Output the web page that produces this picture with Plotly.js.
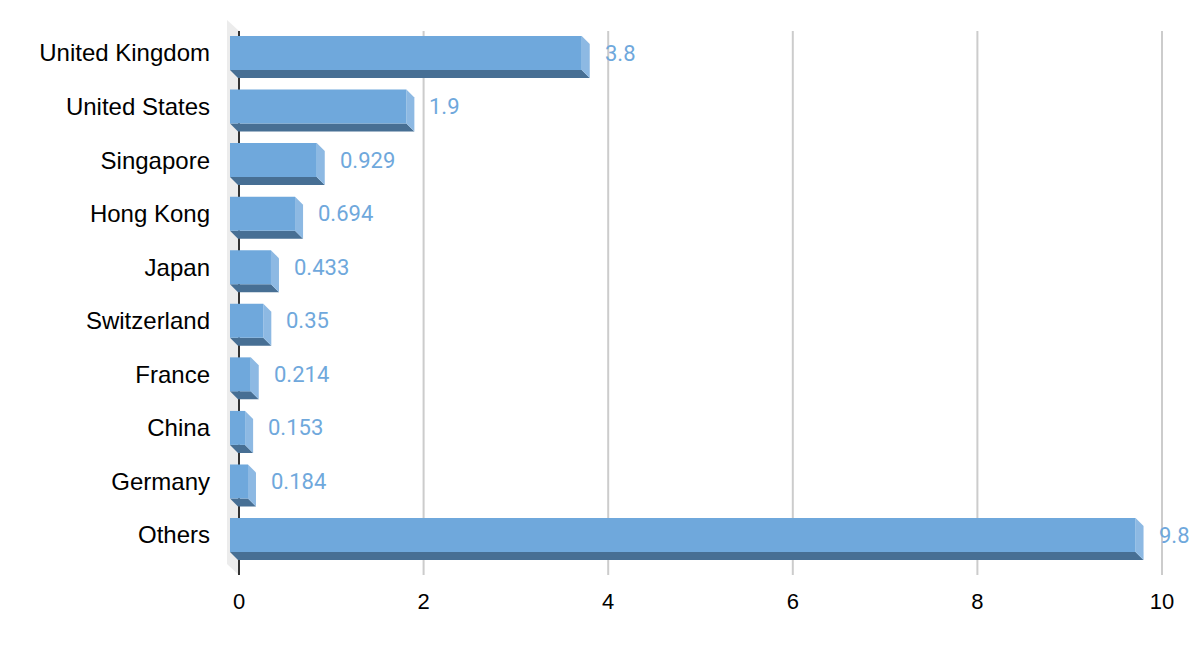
<!DOCTYPE html>
<html>
<head>
<meta charset="utf-8">
<script src="https://cdn.plot.ly/plotly-3.0.1.min.js"></script>
<style>html,body{margin:0;padding:0;background:#fff;}#chart{width:1200px;height:652px;}</style>
</head>
<body>
<div id="chart"></div>
<script>
// ---- data ----
const categories = ["United Kingdom","United States","Singapore","Hong Kong","Japan","Switzerland","France","China","Germany","Others"];
const values = [3.8, 1.9, 0.929, 0.694, 0.433, 0.35, 0.214, 0.153, 0.184, 9.8];
const valueLabels = ["3.8","1.9","0.929","0.694","0.433","0.35","0.214","0.153","0.184","9.8"];
const xTickVals = [0, 2, 4, 6, 8, 10];
const xTickText = ["0","2","4","6","8","10"];

// ---- layout geometry (pixels) ----
const W = 1200, H = 652;
const plotL = 227, plotR = 1197, plotT = 20, plotB = 578;
const x0px = 239, pxPerUnit = 92.3;           // value axis scale
const cat0px = 53, pxPerCat = 53.56;          // category axis scale
const xRange = [(plotL - x0px) / pxPerUnit, (plotR - x0px) / pxPerUnit];
const yRange = [(plotB - cat0px) / pxPerCat, (plotT - cat0px) / pxPerCat];
const ux = px => px / pxPerUnit;           // px -> x units
const uy = px => px / pxPerCat;            // px -> y units
const yAt = py => (py - cat0px) / pxPerCat; // absolute px -> y value

const depthX = ux(8), depthY = uy(8);
const halfH = uy(17);
const faceLeft = ux(-9);

const FACE = "#6fa8dc", BOTTOM = "#476f94", SIDE = "#8db9e3";
const LABEL_FONT = "'Liberation Sans', Arial, sans-serif";

const traces = [];
function poly(xs, ys, color) {
  traces.push({type: "scatter", mode: "lines", x: xs.concat([xs[0]]), y: ys.concat([ys[0]]),
    fill: "toself", fillcolor: color, line: {width: 0, color: color},
    hoverinfo: "skip", showlegend: false});
}
values.forEach((v, i) => {
  const xe = v - depthX;
  const top = i - halfH, bot = i + halfH;
  // bottom face
  poly([faceLeft, xe, v, faceLeft + depthX], [bot, bot, bot + depthY, bot + depthY], BOTTOM);
  // right side
  poly([xe, v, v, xe], [top, top + depthY, bot + depthY, bot], SIDE);
  // front face
  poly([faceLeft, xe, xe, faceLeft], [top, top, bot, bot], FACE);
});

const annotations = values.map((v, i) => ({
  x: v, y: i, xref: "x", yref: "y", text: valueLabels[i], showarrow: false,
  xanchor: "left", yanchor: "middle", xshift: 13,
  font: {family: "Roboto, Arial, sans-serif", size: 22, color: FACE}
}));

const gridTop = yAt(31), gridBot = yAt(575);
const shapes = [];
// left wall
shapes.push({type: "path", layer: "below", xref: "x", yref: "y",
  path: `M ${xRange[0]},${yAt(20)} L 0,${gridTop} L 0,${gridBot} L ${xRange[0]},${yAt(564)} Z`,
  fillcolor: "#ececec", line: {width: 0}});
xTickVals.forEach(t => {
  shapes.push({type: "line", layer: "below", xref: "x", yref: "y", x0: t, x1: t, y0: gridTop, y1: gridBot,
    line: {color: t === 0 ? "#333333" : "#cccccc", width: 2}});
});

const layout = {
  width: W, height: H,
  margin: {l: plotL, r: W - plotR, t: plotT, b: H - plotB, pad: 0},
  paper_bgcolor: "#ffffff", plot_bgcolor: "#ffffff",
  showlegend: false,
  font: {family: LABEL_FONT, color: "#000"},
  xaxis: {range: xRange, showgrid: false, zeroline: false, showline: false,
    tickmode: "array", tickvals: xTickVals, ticktext: xTickText, ticks: "",
    ticklabelstandoff: 8, tickfont: {family: LABEL_FONT, size: 22, color: "#000"}},
  yaxis: {range: yRange, showgrid: false, zeroline: false, showline: false,
    tickmode: "array", tickvals: categories.map((c, i) => i), ticktext: categories, ticks: "",
    ticklabelstandoff: 16, tickfont: {family: LABEL_FONT, size: 24, color: "#000"}},
  shapes: shapes,
  annotations: annotations
};

Plotly.newPlot("chart", traces, layout, {displayModeBar: false, staticPlot: true});
</script>
</body>
</html>
